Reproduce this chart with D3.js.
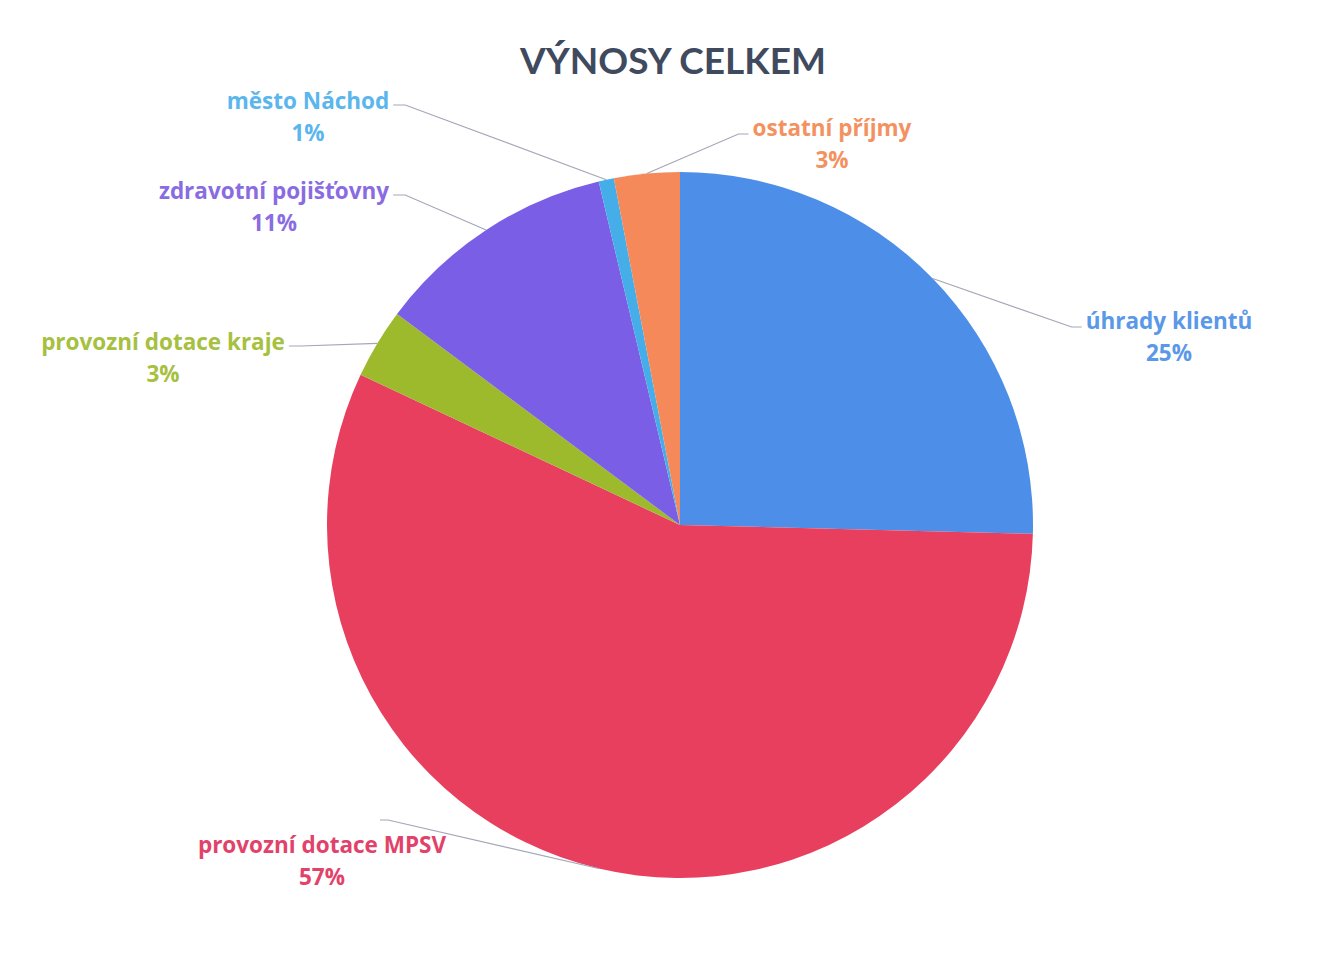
<!DOCTYPE html>
<html><head><meta charset="utf-8">
<script src="https://cdn.jsdelivr.net/npm/d3@7/dist/d3.min.js"></script>
<style>body{margin:0;background:#fff}svg{display:block}</style>
</head><body>
<svg id="c" width="1337" height="956"></svg>
<script>
// Data
const categories = ["úhrady klientů","provozní dotace MPSV","provozní dotace kraje","zdravotní pojišťovny","město Náchod","ostatní příjmy"];
const values = [25.4, 56.6, 3.2, 11.1, 0.7, 3.0];
const sliceColors = ["#4c8ee8","#e83f5f","#9cba2c","#7b5ee6","#45aee8","#f5895a"];
const labelColors = ["#5a98e8","#e2426a","#a6c040","#8a6ce2","#5ab6ec","#f39260"];
const title = "VÝNOSY CELKEM";

// Layout (label centres and leader anchor side)
const labelLayout = [
  {x:1169, y:321, side:"left"},
  {x:322,  y:845, side:"top"},
  {x:163,  y:342, side:"right"},
  {x:274,  y:191, side:"right"},
  {x:308,  y:101, side:"right"},
  {x:832,  y:128, side:"left"}
];

const svg = d3.select("#c");
const cx = 680, cy = 525, R = 353;
const font = "Lato, 'Open Sans', sans-serif";
const lfont = "'Open Sans', Lato, sans-serif";

svg.append("text").attr("x", 673).attr("y", 74).attr("text-anchor","middle")
  .attr("font-family", font).attr("font-weight", 700).attr("font-size", 37)
  .attr("fill", "#3f4a5e").text(title);

const pie = d3.pie().sort(null).value(d => d);
const arcs = pie(values);
const arc = d3.arc().innerRadius(0).outerRadius(R);
const g = svg.append("g").attr("transform", `translate(${cx},${cy})`);
g.selectAll("path").data(arcs).join("path")
  .attr("d", arc).attr("fill", (d,i) => sliceColors[i]);

const total = d3.sum(values);
const labels = svg.append("g");
arcs.forEach((a, i) => {
  const L = labelLayout[i];
  const t = labels.append("text").attr("text-anchor","middle")
    .attr("font-family", lfont).attr("font-weight", 700).attr("font-size", 22.5)
    .attr("fill", labelColors[i]);
  t.append("tspan").attr("x", L.x).attr("y", L.y + 8).text(categories[i]);
  t.append("tspan").attr("x", L.x).attr("y", L.y + 40).text(Math.round(values[i] / total * 100) + "%");
  const w = t.node().getBBox().width;
  // leader
  const mid = (a.startAngle + a.endAngle) / 2;
  const px = cx + R * Math.sin(mid), py = cy - R * Math.cos(mid);
  let pts;
  if (L.side === "right") {
    const sx = L.x + w / 2 + 4, sy = L.y + 4;
    pts = [[sx, sy], [sx + 12, sy], [px, py]];
  } else if (L.side === "left") {
    const sx = L.x - w / 2 - 4, sy = L.y + 6;
    pts = [[sx, sy], [sx - 10, sy], [px, py]];
  } else {
    const sx = L.x + 58, sy = L.y - 25;
    pts = [[sx, sy], [sx + 8, sy], [px, py]];
  }
  svg.append("path").attr("d", d3.line()(pts)).attr("fill","none")
    .attr("stroke", "#a3a6b8").attr("stroke-width", 1.2);
});
</script>
</body></html>
